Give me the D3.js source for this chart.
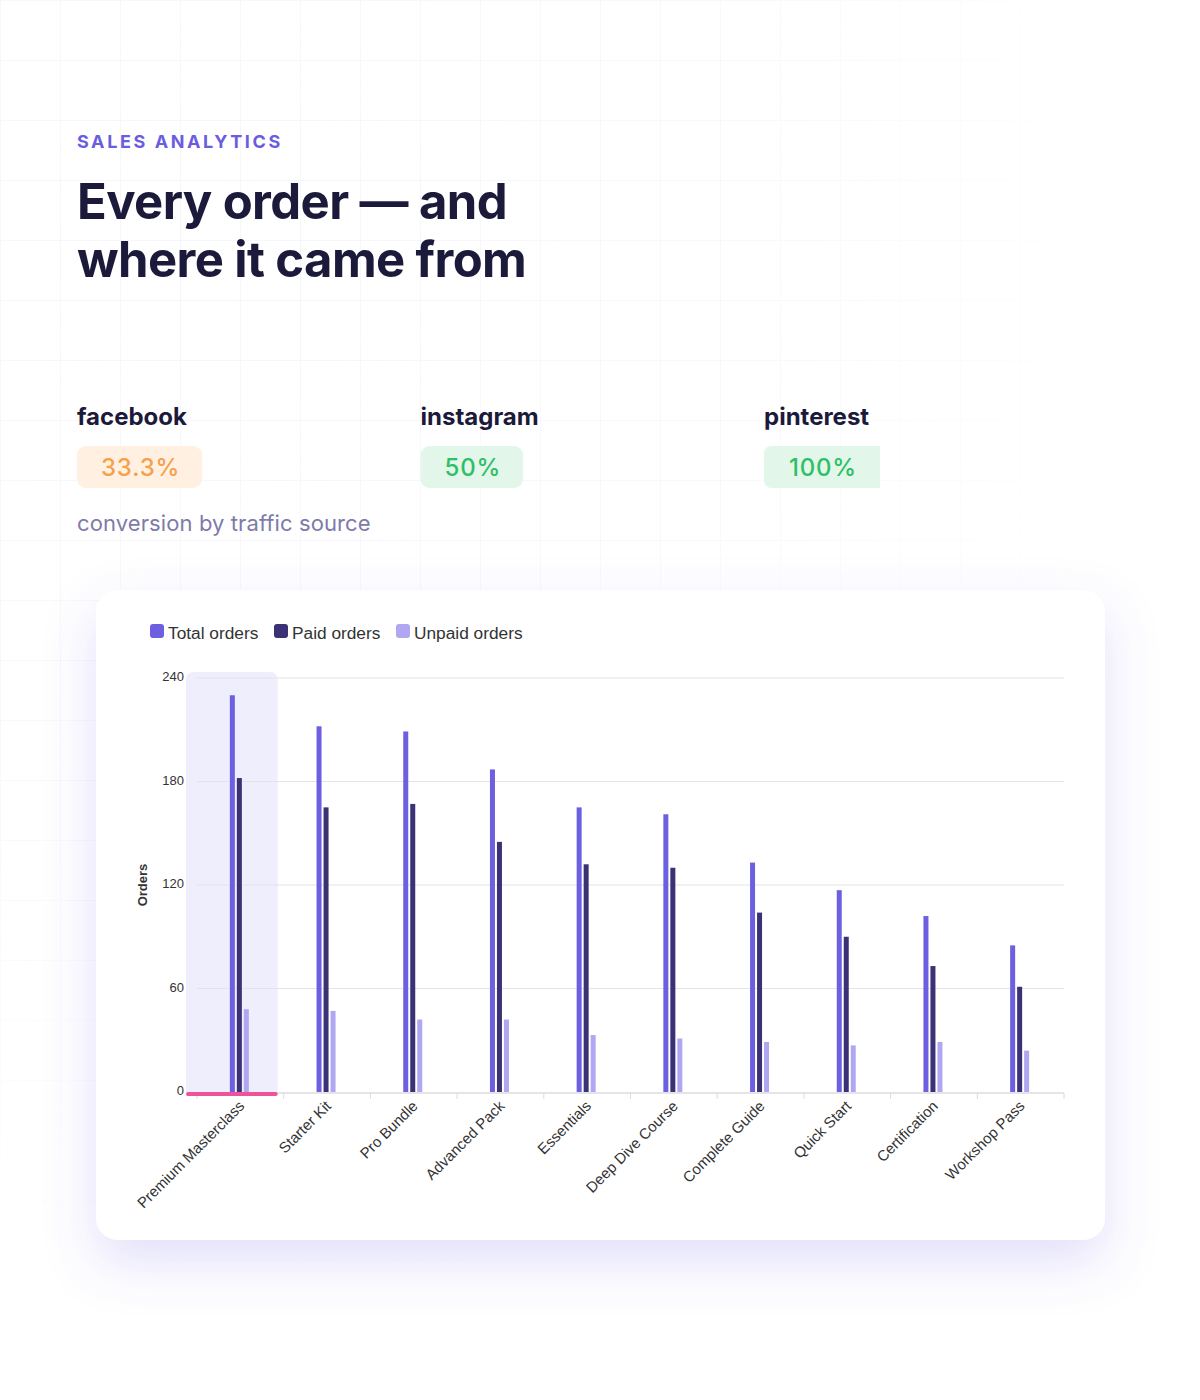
<!DOCTYPE html>
<html><head><meta charset="utf-8">
<script src="https://cdn.jsdelivr.net/npm/d3@7"></script>
<style>
html,body{margin:0;padding:0;background:#fff;}
svg{display:block;}
</style></head>
<body>
<svg id="c" width="1200" height="1400"></svg>
<script>
const categories = ["Premium Masterclass","Starter Kit","Pro Bundle","Advanced Pack","Essentials","Deep Dive Course","Complete Guide","Quick Start","Certification","Workshop Pass"];
const totalOrders = [230,212,209,187,165,161,133,117,102,85];
const paidOrders  = [182,165,167,145,132,130,104,90,73,61];
const unpaidOrders= [48,47,42,42,33,31,29,27,29,24];
const seriesNames = ["Total orders","Paid orders","Unpaid orders"];
const seriesColors = ["#6c60e0","#3a3274","#b0a7f2"];
const yTicks = [0,60,120,180,240];
const sources = ["facebook","instagram","pinterest"];
const conversion = ["33.3%","50%","100%"];
const badgeFill = ["#fff0e2","#e2f7e9","#e2f7e9"];
const badgeText = ["#f5a04c","#2fbf68","#2fbf68"];

const svg = d3.select("#c");
const defs = svg.append("defs");

// background grid
const pat = defs.append("pattern").attr("id","grid").attr("width",60).attr("height",60).attr("patternUnits","userSpaceOnUse");
pat.append("path").attr("d","M60 0 L0 0 0 60").attr("fill","none").attr("stroke","#ecebfa").attr("stroke-width",1);
const rg = defs.append("radialGradient").attr("id","fade").attr("cx",0.2).attr("cy",0.18).attr("r",0.75);
rg.append("stop").attr("offset","0").attr("stop-color","#fff").attr("stop-opacity",1);
rg.append("stop").attr("offset","0.6").attr("stop-color","#fff").attr("stop-opacity",0.6);
rg.append("stop").attr("offset","1").attr("stop-color","#fff").attr("stop-opacity",0);
defs.append("mask").attr("id","gm").append("rect").attr("width",1200).attr("height",1400).attr("fill","url(#fade)");
svg.append("rect").attr("width",1200).attr("height",1400).attr("fill","url(#grid)").attr("mask","url(#gm)");

// header
svg.append("text").attr("x",77).attr("y",148).text("SALES ANALYTICS")
  .attr("font-family","Inter").attr("font-weight",700).attr("font-size",18).attr("letter-spacing",2.6).attr("fill","#6b5ce0");
const title = svg.append("text").attr("font-family","Inter").attr("font-weight",700).attr("font-size",49).attr("fill","#1c1a3a").attr("letter-spacing",-0.6);
title.append("tspan").attr("x",77).attr("y",219).text("Every order — and");
title.append("tspan").attr("x",77).attr("y",277).text("where it came from");

// source cards
const srcX = d3.scalePoint().domain(sources).range([77,764]);
sources.forEach((s,i)=>{
  const x = srcX(s);
  svg.append("text").attr("x",x).attr("y",425).text(s)
    .attr("font-family","Inter").attr("font-weight",700).attr("font-size",24).attr("fill","#1c1a3a");
  const t = svg.append("text").attr("y",476).text(conversion[i])
    .attr("font-family","Inter").attr("font-weight",500).attr("font-size",24).attr("fill",badgeText[i]).attr("letter-spacing",0.8);
  const w = t.node().getComputedTextLength();
  const bw = w + (i===2 ? 48 : 46);
  if (i===2){
    svg.insert("path","text:last-of-type").attr("d",`M${x+8} 446 H${x+bw} V488 H${x+8} Q${x} 488 ${x} 480 V454 Q${x} 446 ${x+8} 446 Z`).attr("fill",badgeFill[i]);
  } else {
    svg.insert("rect","text:last-of-type").attr("x",x).attr("y",446).attr("width",bw).attr("height",42).attr("rx",9).attr("fill",badgeFill[i]);
  }
  t.attr("x",x+bw/2 + 1).attr("text-anchor","middle");
  t.raise();
});
svg.append("text").attr("x",77).attr("y",531).text("conversion by traffic source")
  .attr("font-family","Inter").attr("font-size",22).attr("fill","#7e7ba8").attr("letter-spacing",0.1);

// chart card
const sh = defs.append("filter").attr("id","sh").attr("x","-20%").attr("y","-20%").attr("width","140%").attr("height","150%");
sh.append("feDropShadow").attr("dx",0).attr("dy",22).attr("stdDeviation",26).attr("flood-color","#6d5ee6").attr("flood-opacity",0.2);
svg.append("rect").attr("x",96).attr("y",590).attr("width",1009).attr("height",650).attr("rx",22).attr("fill","#fff").attr("filter","url(#sh)");

// legend
const legX = [150,274,396];
seriesNames.forEach((n,i)=>{
  svg.append("rect").attr("x",legX[i]).attr("y",624).attr("width",14).attr("height",14).attr("rx",3).attr("fill",seriesColors[i]);
  svg.append("text").attr("x",legX[i]+18).attr("y",639).text(n)
    .attr("font-family","Liberation Sans, Arial, sans-serif").attr("font-size",17.3).attr("fill","#333");
});

// scales
const x = d3.scaleBand().domain(categories).range([197,1064]).padding(0);
const y = d3.scaleLinear().domain([0,240]).range([1092,678]);
const g = svg.append("g");

// highlight first category
const c0 = categories[0];
g.append("path").attr("d",()=>{
  const x0 = x(c0)-11, x1 = x(c0)+x.bandwidth()-6, top=y(240)-6, bot=y(0), r=8;
  return `M${x0} ${bot} V${top+r} Q${x0} ${top} ${x0+r} ${top} H${x1-r} Q${x1} ${top} ${x1} ${top+r} V${bot} Z`;
}).attr("fill","#efeefc");

// gridlines
g.selectAll(".gl").data(yTicks.filter(d=>d>0)).join("line")
  .attr("x1",197).attr("x2",1064).attr("y1",d=>y(d)).attr("y2",d=>y(d))
  .attr("stroke","#e4e4e8").attr("stroke-width",1.2);

// y tick labels
g.selectAll(".yt").data(yTicks).join("text")
  .attr("x",184).attr("y",d=>y(d)+3).attr("text-anchor","end").text(d=>d)
  .attr("font-family","Liberation Sans, Arial, sans-serif").attr("font-size",13).attr("fill","#333");
g.append("text").attr("transform",`translate(147,${(y(0)+y(240))/2}) rotate(-90)`).attr("text-anchor","middle").text("Orders")
  .attr("font-family","Liberation Sans, Arial, sans-serif").attr("font-weight",700).attr("font-size",13).attr("fill","#333");

// x axis
g.append("line").attr("x1",197).attr("x2",1064).attr("y1",y(0)+1).attr("y2",y(0)+1).attr("stroke","#dcdce0").attr("stroke-width",1.5);
const tickPos = categories.map(c=>x(c)).concat([x(categories[categories.length-1])+x.bandwidth()]);
g.selectAll(".xt").data(tickPos).join("line").attr("x1",d=>d).attr("x2",d=>d).attr("y1",y(0)+1).attr("y2",y(0)+7).attr("stroke","#dcdce0");

// bars
const sub = d3.scaleBand().domain([0,1,2]).range([-9.5,9.5]).paddingInner(2/7).paddingOuter(0);
const series = [totalOrders, paidOrders, unpaidOrders];
series.forEach((vals,si)=>{
  g.selectAll(".b"+si).data(categories).join("rect")
    .attr("x",(c)=>x(c)+x.bandwidth()/2+sub(si)-1)
    .attr("width",sub.bandwidth())
    .attr("y",(c,i)=>y(vals[i]))
    .attr("height",(c,i)=>y(0)-y(vals[i]))
    .attr("fill",seriesColors[si]);
});

// pink underline for highlighted
g.append("line").attr("x1",x(c0)-9).attr("x2",x(c0)+x.bandwidth()-8).attr("y1",y(0)+2).attr("y2",y(0)+2)
  .attr("stroke","#f0529a").attr("stroke-width",4).attr("stroke-linecap","round");

// x labels
g.selectAll(".xl").data(categories).join("text")
  .attr("transform",c=>`translate(${x(c)+x.bandwidth()/2+5},${y(0)+15}) rotate(-45)`)
  .attr("text-anchor","end").text(c=>c)
  .attr("font-family","Liberation Sans, Arial, sans-serif").attr("font-size",15).attr("fill","#333");
</script>
</body></html>
